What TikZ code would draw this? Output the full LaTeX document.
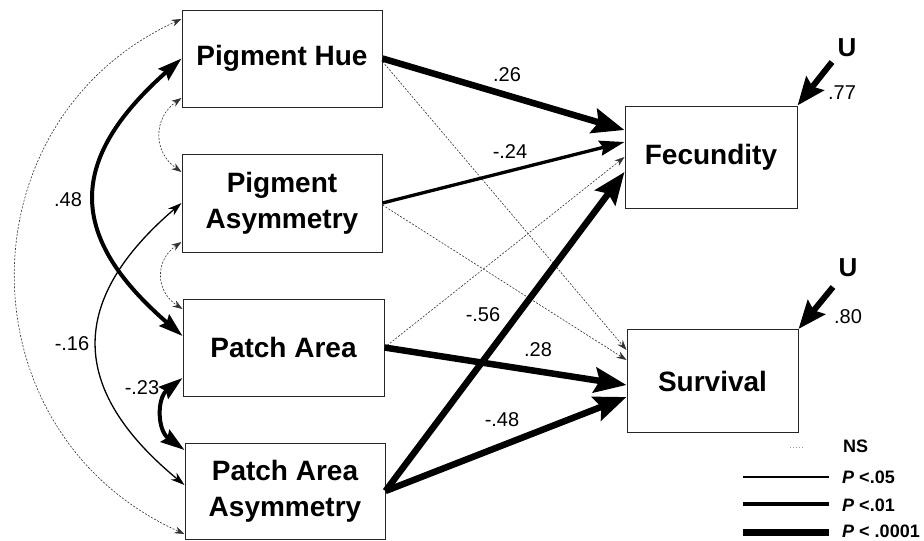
\documentclass[tikz,border=0pt]{standalone}
\usepackage{fontspec}
\setmainfont{Liberation Sans}
\usetikzlibrary{arrows.meta,calc}
\begin{document}
\begin{tikzpicture}[x=1pt,y=-1pt,
  box/.style={draw=black!85,line width=1pt,inner sep=0pt,align=center,
    font=\fontsize{28}{36}\selectfont\bfseries},
  lbl/.style={font=\fontsize{20}{24}\selectfont,inner sep=0pt},
  ulbl/.style={font=\fontsize{26}{30}\selectfont\bfseries,inner sep=0pt},
  leg/.style={font=\fontsize{18}{21}\selectfont\bfseries,inner sep=0pt,anchor=west},
  sigfour/.style={line width=6.5pt,-{Stealth[length=32pt,width=25pt,inset=5pt]}},
  sigtwo/.style={line width=3.3pt,-{Stealth[length=25pt,width=15pt,inset=3pt]}},
  ns/.style={line width=0.6pt,black!80,dash pattern=on 2pt off 1.5pt,
    -{Stealth[length=10pt,width=7pt]}},
  nsboth/.style={line width=0.6pt,black!80,dash pattern=on 2pt off 1.5pt,
    {Stealth[length=10pt,width=7pt]}-{Stealth[length=10pt,width=7pt]}},
  corthick/.style={line width=4pt,{Stealth[length=24pt,width=15pt,inset=3pt]}-{Stealth[length=24pt,width=15pt,inset=3pt]}},
  corthin/.style={line width=1.3pt,{Stealth[length=14pt,width=9pt]}-{Stealth[length=14pt,width=9pt]}},
  resid/.style={line width=6pt,-{Stealth[length=28pt,width=22pt,inset=4pt]}}
]
\useasboundingbox (0,0) rectangle (924,541);

% boxes
\node[box,minimum width=200pt,minimum height=97pt] (hue) at (282,58.5) {Pigment Hue};
\node[box,minimum width=200pt,minimum height=98pt] (pasym) at (282,203) {Pigment\\Asymmetry};
\node[box,minimum width=201pt,minimum height=97pt] (parea) at (283.5,347.5) {Patch Area};
\node[box,minimum width=200pt,minimum height=96pt] (paasym) at (285,491) {Patch Area\\Asymmetry};
\node[box,minimum width=172pt,minimum height=102pt] (fec) at (711,157) {Fecundity};
\node[box,minimum width=171pt,minimum height=103pt] (surv) at (712.5,381) {Survival};

% correlations (left)
\draw[nsboth] ([yshift=39.5pt]hue.west) .. controls (-40,120) and (-40,433) .. ([yshift=-43pt]paasym.west);
\draw[corthick] (hue.west) .. controls (67,160) and (67,236) .. ([yshift=11.5pt]parea.west);
\draw[nsboth] ([yshift=-39.5pt]hue.west) .. controls (153,118) and (153,152) .. ([yshift=31pt]pasym.west);
\draw[corthin] (pasym.west) .. controls (68,300) and (68,389) .. ([yshift=6pt]paasym.west);
\draw[nsboth] ([yshift=-39pt]pasym.west) .. controls (155,260) and (155,291) .. ([yshift=38.5pt]parea.west);
\draw[corthick] ([yshift=-30.5pt]parea.west) .. controls (157,398) and (157,430) .. ([yshift=41pt]paasym.west);

\node[lbl] (r48) at (68,200) {.48};
\node[lbl] (r16) at (72,344) {-.16};
\node[lbl] (r23) at (142,388) {-.23};

% paths (right)
\draw[ns] ([yshift=-3pt]hue.east) -- ([yshift=31pt]surv.west);
\draw[ns] ([yshift=-2pt]pasym.east) -- ([yshift=21pt]surv.west);
\draw[ns] (parea.east) -- (fec.west);
\draw[sigfour] (hue.east) -- ([yshift=27pt]fec.west);
\draw[sigtwo] (pasym.east) -- ([yshift=15pt]fec.west);
\draw[sigfour] (parea.east) -- ([yshift=-4pt]surv.west);
\draw[sigfour] (paasym.east) -- ([yshift=-15pt]fec.west);
\draw[sigfour] (paasym.east) -- ([yshift=-16pt]surv.west);

\node[lbl] (b26) at (507,75) {.26};
\node[lbl] (b24) at (510,152) {-.24};
\node[lbl] (b56) at (483,315) {-.56};
\node[lbl] (b28) at (538,350) {.28};
\node[lbl] (b48) at (502,420) {-.48};

% residuals
\node[ulbl] (u1) at (847,48) {U};
\node[ulbl] (u2) at (848,268) {U};
\coordinate (u1s) at (832,62);
\coordinate (u2s) at (833,287);
\draw[resid] (u1s) -- (fec.north east);
\draw[resid] (u2s) -- (surv.north east);
\node[lbl] (e77) at (842,93) {.77};
\node[lbl] (e80) at (848,317) {.80};

% legend
\coordinate (la) at (790,447); \coordinate (lb) at (803,447);
\draw[line width=0.5pt,black!40,dash pattern=on 1pt off 2pt] (la) -- (lb);
\coordinate (l1a) at (743,477); \coordinate (l1b) at (829,477);
\draw[line width=2pt] (l1a) -- (l1b);
\coordinate (l2a) at (743,504); \coordinate (l2b) at (829,504);
\draw[line width=3.3pt] (l2a) -- (l2b);
\coordinate (l3a) at (743,532); \coordinate (l3b) at (829,532);
\draw[line width=7pt] (l3a) -- (l3b);
\node[leg] (tns) at (843,446) {NS};
\node[leg] (t05) at (842,477) {\textit{P} <.05};
\node[leg] (t01) at (842,505) {\textit{P} <.01};
\node[leg] (t0001) at (842,531) {\textit{P} < .0001};
\end{tikzpicture}
\end{document}
